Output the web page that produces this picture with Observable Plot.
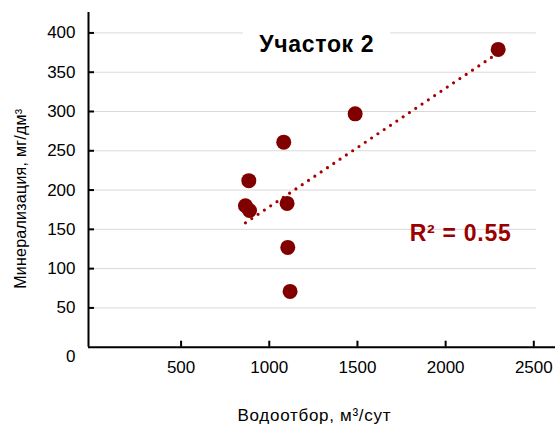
<!DOCTYPE html>
<html><head><meta charset="utf-8">
<script src="https://cdn.jsdelivr.net/npm/d3@7"></script>
<script src="https://cdn.jsdelivr.net/npm/@observablehq/plot@0.6"></script>
<style>
body{margin:0;background:#fff;font-family:"Liberation Sans",Arial,sans-serif;}
#wrap{position:relative;width:555px;height:425px;}
#title{position:absolute;z-index:2;left:243px;top:27.5px;width:147px;height:32px;background:#fff;font-weight:bold;font-size:23px;text-align:center;line-height:32px;color:#000;white-space:nowrap}
</style></head><body>
<div id="wrap"><div id="title"></div></div>
<script>
const title = "Участок 2";
const xLabel = "Водоотбор, м³/сут";
const yLabel = "Минерализация, мг/дм³";
const withdrawal = [865, 888, 884, 1082, 1101, 1105, 1118, 1487, 2298];
const mineralization = [180, 174, 212, 261, 183, 127, 71, 297, 379];
const xTicks = [500, 1000, 1500, 2000, 2500];
const yTicks = [0, 50, 100, 150, 200, 250, 300, 350, 400];

const data = withdrawal.map((x, i) => ({x, y: mineralization[i]}));
const mx = d3.mean(withdrawal), my = d3.mean(mineralization);
let sxy = 0, sxx = 0, syy = 0;
data.forEach(d => { sxy += (d.x - mx) * (d.y - my); sxx += (d.x - mx) ** 2; syy += (d.y - my) ** 2; });
const r2 = sxy * sxy / (sxx * syy);
const r2Label = "R² = " + r2.toFixed(2);

const xDomain = [-25, 2623];
const yDomain = [0, 426];
const gridEnd = 2514;
const r2Pos = {x: 2083, y: 144};

const fontFamily = "'Liberation Sans', Arial, sans-serif";
const plot = Plot.plot({
  width: 555, height: 425,
  marginLeft: 88, marginRight: 0, marginTop: 12, marginBottom: 78.3,
  style: {fontFamily, background: "white", color: "black"},
  x: {domain: xDomain},
  y: {domain: yDomain},
  marks: [
    Plot.ruleY(yTicks.filter(d => d > 0), {x1: xDomain[0], x2: gridEnd, stroke: "#d9d9d9", strokeWidth: 1}),
    Plot.linearRegressionY(data, {x: "x", y: "y", ci: 0, stroke: "#a80000", strokeWidth: 3.2, strokeDasharray: "0,7.6", strokeLinecap: "round"}),
    Plot.dot(data, {x: "x", y: "y", r: 7.5, fill: "#800000", stroke: "none"}),
    Plot.ruleX([xDomain[0]], {stroke: "black", strokeWidth: 2}),
    Plot.ruleY([0], {stroke: "black", strokeWidth: 2}),
    Plot.axisY(yTicks.filter(d => d > 0), {tickSize: 0, tickPadding: 13, fontSize: 17, label: null}),
    Plot.axisY(yTicks.filter(d => d > 0), {tickSize: -6, strokeWidth: 2, tickFormat: () => "", label: null}),
    Plot.axisY([0], {tickSize: 0, tickPadding: 13, dy: 9, fontSize: 17, label: null}),
    Plot.axisX(xTicks, {tickSize: 0, tickPadding: 14, fontSize: 17, label: null, tickFormat: d => String(d)}),
    Plot.axisX(xTicks, {tickSize: -6, strokeWidth: 2, tickFormat: () => "", label: null}),
    Plot.text([yLabel], {frameAnchor: "left", textAnchor: "middle", rotate: -90, dx: -68, dy: 19, fontSize: 16, fill: "black"}),
    Plot.text([xLabel], {frameAnchor: "bottom", dx: -8, dy: 68.8, lineAnchor: "middle", fontSize: 17, fill: "black"}),
    Plot.text([r2Label], {x: () => r2Pos.x, y: () => r2Pos.y, fontSize: 23, fontWeight: "bold", fill: "#9b0000"})
  ]
});
document.getElementById("wrap").prepend(plot);

// stretch a few texts to the widths they have in the reference
const targetWidths = new Map([[xLabel, 153], [r2Label, 101], [yLabel, 180]]);
plot.querySelectorAll("text").forEach(t => {
  const w = targetWidths.get(t.textContent);
  if (w) { t.setAttribute("textLength", w); t.setAttribute("lengthAdjust", "spacing"); }
});
const titleEl = document.getElementById("title");
titleEl.textContent = title;
const ctx = document.createElement("canvas").getContext("2d");
ctx.font = "bold 23px 'Liberation Sans', Arial, sans-serif";
const natural = ctx.measureText(title).width;
const ls = (115 - natural) / title.length;
titleEl.style.letterSpacing = ls + "px";
titleEl.style.textIndent = ls + "px";
</script>
</body></html>
